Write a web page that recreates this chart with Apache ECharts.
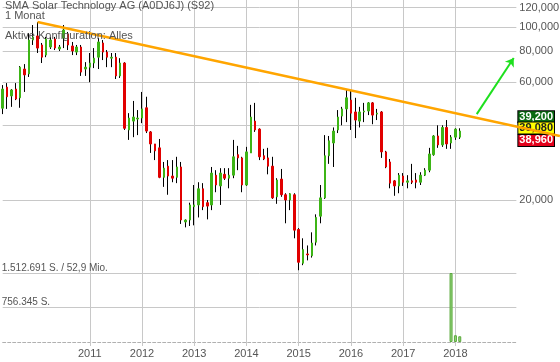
<!DOCTYPE html>
<html><head><meta charset="utf-8">
<script src="https://cdn.jsdelivr.net/npm/echarts@6/dist/echarts.min.js"></script>
<style>html,body{margin:0;padding:0;background:#fff}#c{width:560px;height:362px}</style>
</head><body><div id="c"></div>
<script>
// ---- data (monthly candles, May 2009 .. Feb 2018) ----
const firstYear = 2009, firstMonth = 5, axisMonthCount = 119;
const opens = [47000,57200,52700,56200,51800,67700,64700,88700,92100,84700,
 77100,83100,89600,81600,90400,93800,83900,79300,83100,67700,
 68900,71600,75600,86300,79300,74900,75600,63500,71600,38400,
 41700,42500,42900,47200,37700,33700,32500,24700,27400,25000,
 24700,27200,16300,16600,18800,19100,22200,19500,19100,25200,
 22800,25400,24500,25200,30500,29600,23000,31000,41700,38700,
 30200,29600,27400,20600,24300,21000,20000,21000,15200,11100,
 12100,11900,13500,17200,20400,30200,34000,38400,43700,46700,
 50700,45400,41700,45400,45800,49400,44500,45400,31300,28500,
 23900,22800,25000,23600,23900,24100,23600,25200,26400,30500,
 36300,33400,39300,34000,35900,35900];
const closes = [56200,52300,55700,51200,68900,64100,88700,91300,82300,75600,
 89600,88700,82300,83100,97400,84700,80100,83100,65800,68900,
 71600,74900,87100,79300,75600,75600,63500,71600,39000,42900,
 43300,42900,46700,38000,33700,31600,24700,26900,25000,24500,
 27200,16600,16600,19100,19100,22200,18800,18900,25700,23000,
 25700,24500,25200,29900,29600,23000,31300,43300,38400,29900,
 29300,27400,20400,24100,21000,20000,21200,15100,11200,12600,
 12000,13400,17000,20400,30200,34700,38000,43300,46700,51800,
 44900,42100,45400,45800,49400,44100,44900,31300,27200,23400,
 22800,25200,23600,23900,23600,23600,25200,26400,30700,36300,
 33400,39300,33700,35900,38700,38000];
const lows = [44500,46700,47600,50700,47200,54700,62900,84700,78600,71600,
 75600,81600,80800,80100,82300,80800,77100,77100,63500,63500,
 59900,68300,67700,73600,68900,68900,61700,62300,38400,35000,
 35900,36600,40900,37300,31000,29000,24500,22600,21000,23600,
 23400,16000,15500,15700,15800,17000,18200,16700,18200,21500,
 19100,24100,22300,24500,26400,21500,22800,31000,37700,29000,
 29000,25400,20200,19300,20600,16100,18200,14000,10400,10900,
 11400,11700,13100,16100,20200,28000,27200,37300,40100,41300,
 38400,35600,39300,41300,44100,40500,42100,29600,26900,22300,
 20800,21300,22800,22300,23200,22300,23000,25000,25900,30200,
 32500,32800,32200,32200,35000,35300];
const highs = [58300,59400,56200,59400,69600,70900,94700,102000,104900,86300,
 91300,91300,91300,84700,102000,95600,87100,84700,84700,72200,
 78600,82300,90400,88700,80800,78600,78600,74900,72200,44900,
 50300,46200,54700,52300,38000,33700,35300,28500,29000,29000,
 29900,28500,16700,19500,23000,23600,23400,20000,27200,26400,
 26900,26900,26900,35000,33100,29900,32800,48500,49400,39000,
 32200,32500,29900,24500,26700,21300,21300,21300,15400,14000,
 13100,14800,17500,23000,36600,36300,39300,46200,47600,55700,
 55700,51800,47600,49400,49800,49800,46700,45800,31600,29300,
 24100,25700,25700,25200,28000,25700,25900,26900,32500,36600,
 40100,40100,42100,36600,39000,39000];
const volumeIndex = [103, 104, 105];
const volumeValues = [1512691, 148000, 126000];
const volumeMax = 1512691;
const volumeTickLabels = ['756.345 S.', '1.512.691 S. / 52,9 Mio.'];
const priceTicks = [20000, 40000, 60000, 80000, 100000, 120000];
const priceTickLabels = ['20,000', '40,000', '60,000', '80,000', '100,000', '120,000'];
const yearLabels = ['2011','2012','2013','2014','2015','2016','2017','2018'];
const quoteValues = [39200, 39080, 38960];
const quoteLabels = ['39,200', '39,080', '38,960'];
// trend line and arrow, in month-index units (0 = May 2009) and price
const trendLine = [[8, 104900], [128, 36300]];
const arrowLine = [[108.9, 44500], [117.4, 75000]];
const titleLines = ['SMA Solar Technology AG (A0DJ6J) (S92)', '1 Monat', 'Aktive Konfiguration: Alles'];

// ---- categories ----
const months = [];
for (let k = 0; k < axisMonthCount; k++) {
  const m = firstMonth - 1 + k;
  const y = firstYear + Math.floor(m / 12);
  const mm = (m % 12) + 1;
  months.push(y + '-' + (mm < 10 ? '0' + mm : mm));
}
const yearCats = yearLabels.map(y => y + '-01');
const isYearTick = (idx, val) => yearCats.indexOf(val) >= 0;

const FONT = 'Liberation Sans, Arial, sans-serif';
const GRID = '#c8c8c8';
const UP = '#3db516', DOWN = '#e10000';
const STEP = 4.353;           // px per month
const G_LEFT = 2.7, G_MONTHS = axisMonthCount - 1;

const wickData = opens.map((o, i) => [lows[i], lows[i], lows[i], highs[i]]);
const bodyData = opens.map((o, i) => [o, closes[i], Math.min(o, closes[i]), Math.max(o, closes[i])]);
const volData = volumeIndex.map((idx, k) => ({
  value: [idx, volumeValues[k]],
  itemStyle: closes[idx] >= opens[idx]
    ? {color: '#94d47f', borderColor: '#5aa83a'}
    : {color: '#ee8a8a', borderColor: '#d94a4a'}
}));

const chart = echarts.init(document.getElementById('c'), null, {renderer: 'canvas'});
chart.setOption({
  animation: false,
  backgroundColor: '#fff',
  textStyle: {fontFamily: FONT},
  title: titleLines.map((t, i) => ({
    text: t, left: 5, top: [0, 10, 30][i], padding: 0, z: 20,
    textStyle: {fontSize: 11, fontWeight: 'normal', color: '#555', fontFamily: FONT}
  })),
  grid: [
    {left: G_LEFT, width: G_MONTHS * STEP, top: 0, height: 273, outerBoundsMode: 'none', containLabel: false},
    {left: G_LEFT, width: G_MONTHS * STEP, top: 273, height: 69, outerBoundsMode: 'none', containLabel: false},
    {left: G_LEFT, width: trendLine[1][0] * STEP, top: 0, height: 273, outerBoundsMode: 'none', containLabel: false}
  ],
  xAxis: [
    {gridIndex: 0, type: 'category', data: months, boundaryGap: false,
     axisLine: {show: false}, axisTick: {show: false}, axisLabel: {show: false},
     splitLine: {show: true, interval: isYearTick, lineStyle: {color: GRID, width: 1}}},
    {gridIndex: 1, type: 'category', data: months, boundaryGap: false,
     axisLine: {show: true, lineStyle: {color: '#b0b0b0', type: [3, 2], width: 1}},
     axisTick: {show: true, interval: isYearTick, length: 4, lineStyle: {color: GRID, width: 1}},
     axisLabel: {show: true, interval: isYearTick,
       formatter: v => v.slice(0, 4), color: '#555', fontSize: 11, margin: 6, fontFamily: FONT},
     splitLine: {show: true, interval: isYearTick, lineStyle: {color: GRID, width: 1}}},
    {gridIndex: 2, type: 'value', min: 0, max: trendLine[1][0], show: false}
  ],
  yAxis: [
    {gridIndex: 0, type: 'log', logBase: 10, min: 10135, max: 128756, position: 'right',
     axisLine: {show: false}, axisTick: {show: false, customValues: priceTicks},
     axisLabel: {customValues: priceTicks, margin: 3, color: '#555', fontSize: 11, fontFamily: FONT,
       formatter: v => { const k = priceTicks.indexOf(Math.round(v)); return k >= 0 ? priceTickLabels[k] : ''; }},
     splitLine: {show: false}},
    {gridIndex: 1, type: 'value', min: 0, max: volumeMax, interval: volumeMax / 2, position: 'left',
     axisLine: {show: false}, axisTick: {show: false},
     axisLabel: {inside: true, margin: -1, align: 'left', verticalAlign: 'bottom', color: '#555',
       fontSize: 10, fontFamily: FONT,
       formatter: v => v <= 0 ? '' : (v >= volumeMax ? volumeTickLabels[1] : volumeTickLabels[0])},
     splitLine: {show: true, lineStyle: {color: ['rgba(0,0,0,0)', GRID, GRID], width: 1}}},
    {gridIndex: 2, type: 'log', logBase: 10, min: 10135, max: 128756, show: false}
  ],
  series: [
    {type: 'candlestick', name: 'wick', xAxisIndex: 0, yAxisIndex: 0, data: wickData,
     barWidth: 1, silent: true, z: 5, clip: false,
     itemStyle: {color: '#000', color0: '#000', borderColor: '#000', borderColor0: '#000',
       borderColorDoji: '#000', borderWidth: 1},
     markLine: {
       silent: true, symbol: ['none', 'none'], z: 1, animation: false, label: {show: false},
       lineStyle: {color: GRID, width: 1, type: 'solid'},
       data: priceTicks.map(v => ({yAxis: v}))
     }},
    {type: 'candlestick', name: 'body', xAxisIndex: 0, yAxisIndex: 0, data: bodyData,
     barWidth: 2, silent: true, z: 6, clip: false,
     itemStyle: {color: UP, color0: DOWN, borderColor: UP, borderColor0: DOWN,
       borderColorDoji: UP, borderWidth: 1},
     markLine: {
       silent: true, symbol: 'none', z: 7, animation: false,
       lineStyle: {color: 'rgba(0,0,0,0)', width: 1},
       data: quoteValues.map((v, k) => ({
         yAxis: v,
         label: {
           show: true, position: 'end', distance: 2,
           formatter: quoteLabels[k],
           offset: [0, [-11, 0, 12][k]],
           fontSize: 11, fontWeight: 'bold', fontFamily: FONT, lineHeight: 11,
           color: ['#fff', '#222', '#fff'][k],
           backgroundColor: ['#0b6b12', '#ffff00', '#e3001b'][k],
           borderColor: '#000', borderWidth: 1, padding: [0, 1, 0, 1]
         }
       }))
     }},
    {type: 'line', name: 'trend', xAxisIndex: 2, yAxisIndex: 2, data: trendLine,
     symbol: 'none', clip: false, silent: true, z: 10,
     lineStyle: {color: '#ffa500', width: 2.5},
     markLine: {
       silent: true, z: 11, animation: false,
       symbol: ['none', 'arrow'], symbolSize: 8,
       lineStyle: {color: '#1ee01e', width: 2, type: 'solid'},
       label: {show: false},
       data: [[{coord: arrowLine[0]}, {coord: arrowLine[1]}]]
     }},
    {type: 'bar', name: 'volume', xAxisIndex: 1, yAxisIndex: 1, data: volData,
     barWidth: 3, silent: true, z: 5, itemStyle: {borderWidth: 1}}
  ]
});
</script></body></html>
